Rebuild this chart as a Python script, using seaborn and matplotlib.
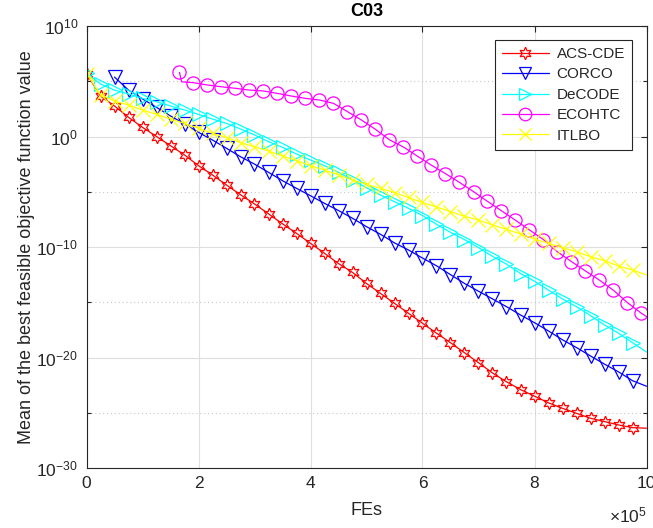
import numpy as np
import pandas as pd
import seaborn as sns
import matplotlib
matplotlib.use("Agg")
import matplotlib.pyplot as plt
from matplotlib.ticker import FixedLocator, FuncFormatter, NullFormatter

# ---------------- data (FEs, log10 of mean best feasible objective value) -------------
fes_full = [0, 25000, 50000, 75000, 100000, 125000, 150000, 175000, 200000, 225000,
            250000, 275000, 300000, 325000, 350000, 375000, 400000, 425000, 450000, 475000,
            500000, 525000, 550000, 575000, 600000, 625000, 650000, 675000, 700000, 725000,
            750000, 775000, 800000, 825000, 850000, 875000, 900000, 925000, 950000, 975000,
            1000000]
fes_corco = fes_full[2:]
fes_ecohtc = [166000, 170000, 191000, 216000, 241000, 266000, 291000, 316000, 341000, 366000,
              391000, 416000, 441000, 466000, 491000, 516000, 541000, 566000, 591000, 616000,
              641000, 666000, 692000, 716000, 741000, 766000, 791000, 816000, 841000, 866000,
              891000, 916000, 941000, 966000, 991000, 1000000]

log_acscde = [5.7, 3.66, 2.76, 1.74, 0.83, 0.0, -0.83, -1.67, -2.64, -3.48,
              -4.39, -5.27, -6.1, -7.0, -7.9, -8.76, -9.67, -10.57, -11.5, -12.3,
              -13.3, -14.2, -15.1, -16.0, -16.9, -17.8, -18.66, -19.57, -20.47, -21.4,
              -22.2, -22.9, -23.5, -24.1, -24.6, -25.05, -25.5, -25.8, -26.1, -26.35,
              -26.4]
log_corco = [5.38, 4.2, 3.4, 2.64, 1.86, 1.13, 0.38, -0.32,
             -1.07, -1.83, -2.5, -3.24, -4.0, -4.69, -5.36, -6.05, -6.7, -7.4,
             -8.16, -8.85, -9.63, -10.27, -11.0, -11.7, -12.5, -13.3, -14.0, -14.7,
             -15.4, -16.15, -16.85, -17.6, -18.4, -19.1, -19.86, -20.6, -21.3, -22.1,
             -22.6]
log_decode = [5.72, 4.75, 4.2, 3.85, 3.45, 3.15, 2.76, 2.4, 2.0, 1.58,
              1.19, 0.68, 0.14, -0.47, -0.98, -1.58, -2.13, -2.64, -3.24, -3.94,
              -4.63, -5.3, -5.9, -6.5, -7.15, -7.95, -8.67, -9.33, -10.05, -10.85,
              -11.55, -12.4, -13.1, -13.9, -14.7, -15.4, -16.2, -17.06, -17.8, -18.66,
              -19.5]
log_ecohtc = [5.8, 4.95, 4.87, 4.66, 4.5, 4.36, 4.2, 4.12, 3.9, 3.66,
              3.45, 3.3, 3.0, 2.25, 1.49, 0.65, -0.3, -0.95, -1.78, -2.6,
              -3.36, -4.15, -5.02, -5.87, -6.72, -7.58, -8.46, -9.33, -10.44, -11.32,
              -12.17, -13.0, -13.92, -15.04, -16.0, -16.3]
log_itlbo = [5.7, 3.8, 3.2, 2.85, 2.4, 2.0, 1.58, 1.19, 0.74, 0.29,
             -0.1, -0.56, -0.92, -1.31, -1.76, -2.19, -2.64, -3.03, -3.48, -3.94,
             -4.33, -4.69, -5.08, -5.52, -5.97, -6.38, -6.8, -7.22, -7.56, -8.0,
             -8.4, -8.82, -9.28, -9.67, -10.06, -10.43, -10.88, -11.24, -11.72, -12.08,
             -12.53]

names = ["ACS-CDE", "CORCO", "DeCODE", "ECOHTC", "ITLBO"]
colors = ["#ff0000", "#0000ff", "#00ffff", "#ff00ff", "#ffff00"]
markers = [(6, 1, 0), "v", ">", "o", "x"]
xs = [fes_full, fes_corco, fes_full, fes_ecohtc, fes_full]
ys = [log_acscde, log_corco, log_decode, log_ecohtc, log_itlbo]
x_ticks = [0, 2, 4, 6, 8, 10]

# ---------------- style -------------
sns.set_theme(style="white")
plt.rcParams["font.family"] = ["Liberation Sans", "DejaVu Sans"]
plt.rcParams["mathtext.fontset"] = "custom"
plt.rcParams["mathtext.rm"] = "Liberation Sans"
plt.rcParams["mathtext.it"] = "Liberation Sans"
plt.rcParams["mathtext.default"] = "regular"

fig = plt.figure(figsize=(6.53, 5.28), dpi=100)
ax = fig.add_axes([86.5 / 653, 1 - 468 / 528, 560 / 653, 442 / 528])

axis_col = "#262626"
for i, name in enumerate(names):
    x = np.array(xs[i], dtype=float)
    y = 10.0 ** np.array(ys[i], dtype=float)
    n = len(x)
    if name == "ECOHTC":
        mk = [0] + list(range(2, n - 1))
    else:
        mk = list(range(0, n - 1))
    sns.lineplot(x=x, y=y, ax=ax, color=colors[i], marker=markers[i],
                 markersize=9.5 if name != "ACS-CDE" else 9,
                 markerfacecolor="none", markeredgecolor=colors[i],
                 markeredgewidth=0.9, linewidth=0.9, markevery=mk,
                 estimator=None, sort=False, label=name, legend=False)

ax.set_yscale("log")
ax.set_xlim(0, 1e6)
ax.set_ylim(1e-30, 1e10)

ax.xaxis.set_major_locator(FixedLocator([v * 1e5 for v in x_ticks]))
ax.xaxis.set_major_formatter(FuncFormatter(lambda v, p: f"{v/1e5:g}"))
ax.yaxis.set_major_locator(FixedLocator([1e-30, 1e-20, 1e-10, 1e0, 1e10]))
ax.yaxis.set_minor_locator(FixedLocator([1e-25, 1e-15, 1e-5, 1e5]))
ax.yaxis.set_major_formatter(FuncFormatter(lambda v, p: r"$10^{%d}$" % round(np.log10(v))))
ax.yaxis.set_minor_formatter(NullFormatter())

ax.grid(True, which="major", color="#dedede", linewidth=0.8, linestyle="-")
ax.grid(True, which="minor", axis="y", color="#c8c8c8", linewidth=0.8, linestyle=(0, (1, 2.5)))
ax.set_axisbelow(True)

ax.tick_params(axis="both", which="major", direction="in", length=4, width=0.8,
               top=True, right=True, colors=axis_col, labelsize=12.5, labelcolor=axis_col, pad=6)
ax.tick_params(axis="y", which="minor", direction="in", length=3, width=0.8,
               left=True, right=True, colors=axis_col)
ax.tick_params(axis="x", which="minor", bottom=False, top=False)
for s in ax.spines.values():
    s.set_color(axis_col)
    s.set_linewidth(0.8)

ax.set_title("C03", fontsize=13, fontweight="bold", color="black", pad=7)
ax.set_xlabel("FEs", fontsize=13, color=axis_col, labelpad=8)
ax.set_ylabel("Mean of the best feasible objective function value", fontsize=13,
              color=axis_col, labelpad=1)
ax.text(1.0, -0.122, r"$\times10^{5}$", transform=ax.transAxes, ha="right",
        va="baseline", fontsize=12.5, color=axis_col)

handles = []
for i, name in enumerate(names):
    h, = ax.plot([], [], color=colors[i], marker=markers[i], markersize=9,
                 markerfacecolor="none", markeredgecolor=colors[i],
                 markeredgewidth=0.9, linewidth=0.9, label=name)
    handles.append(h)
leg = ax.legend(handles=handles, loc="upper right", bbox_to_anchor=(0.974, 0.968),
                borderaxespad=0, fontsize=11, frameon=True, fancybox=False,
                framealpha=1, edgecolor=axis_col, handlelength=3.1, labelspacing=0.42,
                borderpad=0.45, handletextpad=0.5)
leg.get_frame().set_linewidth(0.8)

fig.savefig("out.png", dpi=100)
